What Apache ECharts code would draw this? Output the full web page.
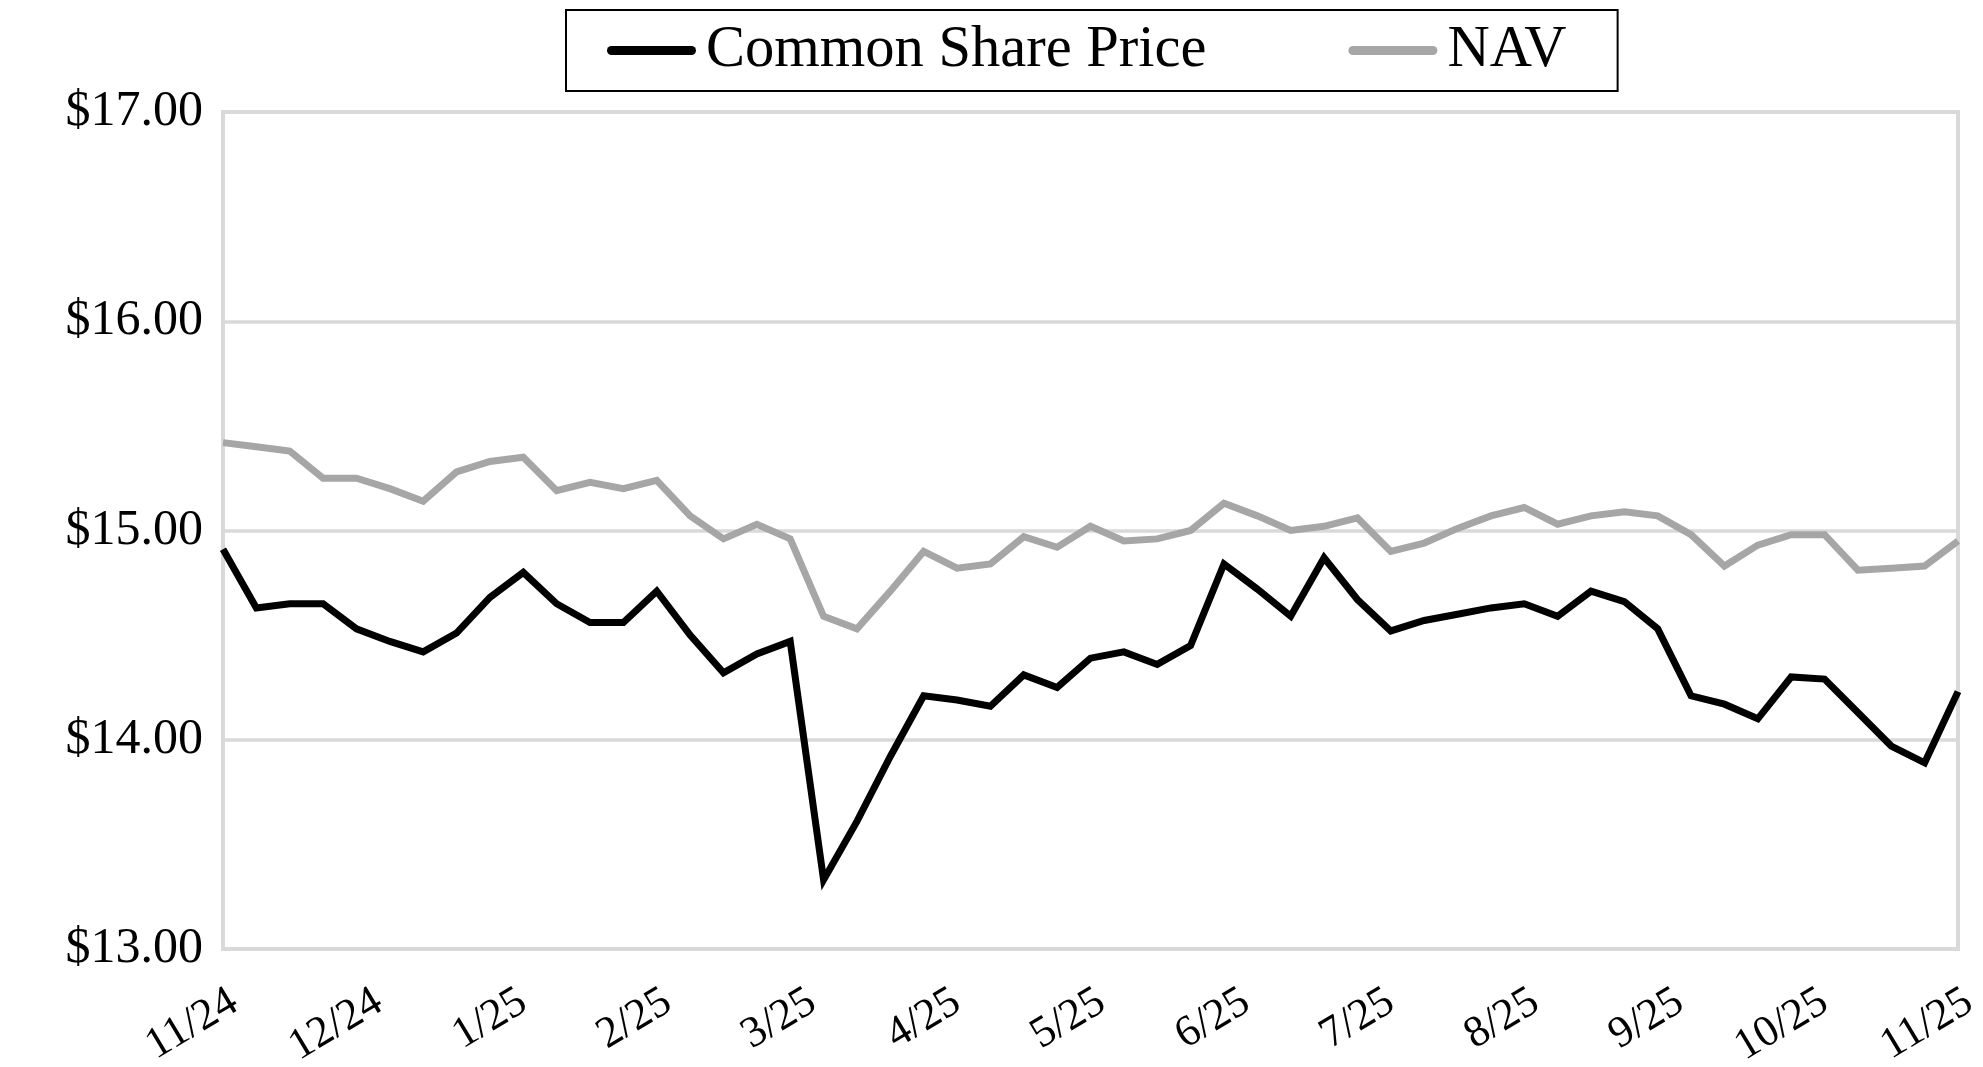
<!DOCTYPE html>
<html>
<head>
<meta charset="utf-8">
<script src="https://cdn.jsdelivr.net/npm/echarts@6/dist/echarts.min.js"></script>
<style>
html,body{margin:0;padding:0;background:#fff;}
#chart{width:1983px;height:1067px;}
</style>
</head>
<body>
<div id="chart"></div>
<script>
// Weekly observations, 11/24 .. 11/25
const seriesNames = ["Common Share Price", "NAV"];
const sharePrice = [14.91, 14.63, 14.65, 14.65, 14.53, 14.47, 14.42, 14.51, 14.68, 14.80,
  14.65, 14.56, 14.56, 14.71, 14.50, 14.32, 14.41, 14.47, 13.33, 13.61,
  13.92, 14.21, 14.19, 14.16, 14.31, 14.25, 14.39, 14.42, 14.36, 14.45,
  14.84, 14.72, 14.59, 14.87, 14.67, 14.52, 14.57, 14.60, 14.63, 14.65,
  14.59, 14.71, 14.66, 14.53, 14.21, 14.17, 14.10, 14.30, 14.29, 14.13,
  13.97, 13.89, 14.23];
const navValues = [15.42, 15.40, 15.38, 15.25, 15.25, 15.20, 15.14, 15.28, 15.33, 15.35,
  15.19, 15.23, 15.20, 15.24, 15.07, 14.96, 15.03, 14.96, 14.59, 14.53,
  14.71, 14.90, 14.82, 14.84, 14.97, 14.92, 15.02, 14.95, 14.96, 15.00,
  15.13, 15.07, 15.00, 15.02, 15.06, 14.90, 14.94, 15.01, 15.07, 15.11,
  15.03, 15.07, 15.09, 15.07, 14.98, 14.83, 14.93, 14.98, 14.98, 14.81,
  14.82, 14.83, 14.95];
const monthLabels = ["11/24", "12/24", "1/25", "2/25", "3/25", "4/25", "5/25",
  "6/25", "7/25", "8/25", "9/25", "10/25", "11/25"];
const yTicks = [13, 14, 15, 16, 17];

const nPts = sharePrice.length;           // 53
const span = nPts - 1;                     // 52
const nMonths = monthLabels.length - 1;    // 12
const monthPositions = monthLabels.map((_, i) => i * span / nMonths);

const FONT = "'Liberation Serif', 'Times New Roman', serif";
const chart = echarts.init(document.getElementById('chart'), null, {renderer: 'canvas'});

const toPairs = arr => arr.map((v, i) => [i, v]);

chart.setOption({
  animation: false,
  backgroundColor: '#ffffff',
  grid: {
    left: 223, right: 25, top: 112, bottom: 118,
    show: true, borderColor: '#d9d9d9', borderWidth: 4,
    outerBoundsMode: 'none', containLabel: false
  },
  legend: {
    data: seriesNames,
    left: 566, top: 10,
    orient: 'horizontal',
    padding: [11, 51, 11, 41],
    borderColor: '#000', borderWidth: 2,
    itemWidth: 89, itemHeight: 9, itemGap: 142,
    icon: 'path://M4.5,0 L84.5,0 A4.5,4.5 0 0 1 84.5,9 L4.5,9 A4.5,4.5 0 0 1 4.5,0 Z',
    textStyle: {fontFamily: FONT, fontSize: 58.5, color: '#000', lineHeight: 58, padding: [0, 0, 0, 5]},
    selectedMode: false
  },
  xAxis: {
    type: 'value', min: 0, max: span,
    axisLine: {show: false},
    axisTick: {show: false},
    splitLine: {show: false},
    axisLabel: {
      customValues: monthPositions,
      rotate: 31,
      align: 'right',
      verticalAlign: 'top',
      margin: 31,
      fontFamily: FONT, fontSize: 44, color: '#000',
      formatter: v => monthLabels[Math.round(v * nMonths / span)]
    }
  },
  yAxis: {
    type: 'value', min: yTicks[0], max: yTicks[yTicks.length - 1], interval: 1,
    axisLine: {show: false},
    axisTick: {show: false},
    splitLine: {show: true, lineStyle: {color: '#d9d9d9', width: 3.5}},
    axisLabel: {
      margin: 20,
      fontFamily: FONT, fontSize: 50, color: '#000',
      formatter: v => '$' + v.toFixed(2)
    }
  },
  series: [
    {
      name: seriesNames[0], type: 'line', data: toPairs(sharePrice),
      showSymbol: false, symbol: 'none', z: 3,
      lineStyle: {color: '#000000', width: 7, join: 'miter'},
      itemStyle: {color: '#000000'}
    },
    {
      name: seriesNames[1], type: 'line', data: toPairs(navValues),
      showSymbol: false, symbol: 'none', z: 2,
      lineStyle: {color: '#a6a6a6', width: 7, join: 'miter'},
      itemStyle: {color: '#a6a6a6'}
    }
  ]
});
</script>
</body>
</html>
